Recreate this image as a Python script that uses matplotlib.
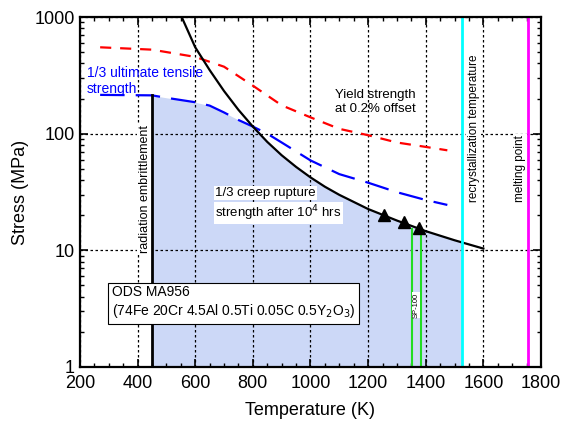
import matplotlib.pyplot as plt
import numpy as np

plt.rcParams['font.family'] = ['Liberation Sans', 'DejaVu Sans']

# 1/3 creep rupture strength after 10^4 hrs
creep_T = np.array([553, 600, 650, 700, 750, 800, 850, 900, 950, 1000, 1050, 1100, 1200, 1300, 1400, 1500, 1600])
creep_S = np.array([1000, 550, 351, 232, 160, 115, 85, 65.3, 51.9, 42.2, 35.1, 29.9, 22.6, 18.0, 14.6, 12.2, 10.35])

# 1/3 ultimate tensile strength
uts_T = np.array([270, 450, 500, 600, 650, 700, 750, 800, 850, 900, 1000, 1100, 1200, 1300, 1400, 1475])
uts_S = np.array([215, 213, 203, 186, 174, 152, 131, 115, 100, 84, 59, 45, 38, 31.5, 27, 24.5])

# yield strength at 0.2% offset
ys_T = np.array([270, 450, 600, 700, 800, 900, 1000, 1100, 1200, 1300, 1400, 1475])
ys_S = np.array([550, 525, 455, 375, 258, 175, 138, 110, 97, 84, 77, 72])

# measured points
pts_T = np.array([1256, 1325, 1375])
pts_S = np.array([20, 17.6, 15.4])

embrittle_T = 450
recryst_T = 1527
melt_T = 1755
sp100_T = [1352, 1383]
sp100_top = 15.2

fig = plt.figure(figsize=(5.62, 4.21), dpi=100)
ax = fig.add_axes([0.1423, 0.1283, 0.8203, 0.8313])
ax.set_yscale('log')
ax.set_xlim(200, 1800)
ax.set_ylim(1, 1000)

# allowable region
T = np.linspace(embrittle_T, recryst_T, 400)
lim_uts = 10 ** np.interp(T, uts_T, np.log10(uts_S))
lim_creep = 10 ** np.interp(T, creep_T, np.log10(creep_S), left=1e4)
top = np.minimum(lim_uts, lim_creep)
ax.fill_between(T, 1, top, color='#ccd8f7', lw=0, zorder=1)

ax.grid(True, which='major', color='black', ls=(0, (2, 2)), lw=0.9, zorder=2)

ax.plot(ys_T, ys_S, color='red', lw=1.6, dashes=(5, 4), zorder=3)
ax.plot(uts_T, uts_S, color='blue', lw=1.6, dashes=(11, 5), zorder=3)
ax.plot(creep_T, creep_S, color='black', lw=1.6, zorder=4)
ax.plot([embrittle_T, embrittle_T], [1, uts_S[1]], color='black', lw=2, zorder=4)
ax.axvline(recryst_T, color='cyan', lw=2, zorder=4)
ax.axvline(melt_T, color='magenta', lw=2, zorder=4)
for t in sp100_T:
    ax.plot([t, t], [1, sp100_top], color='#22dd22', lw=1.5, zorder=4)
ax.plot(pts_T, pts_S, ls='none', marker='^', color='black', ms=8, zorder=5)

white = dict(boxstyle='square,pad=0.1', fc='white', ec='none')
ax.text(424, 33.5, 'radiation embrittlement', rotation=90, ha='center', va='center', fontsize=9,
        bbox=white, zorder=3)
ax.text(1566, 111, 'recrystallization temperature', rotation=90, ha='center', va='center', fontsize=8.5,
        bbox=white, zorder=3)
ax.text(1728, 50, 'melting point', rotation=90, ha='center', va='center', fontsize=8.5,
        bbox=white, zorder=3)
ax.text(1367, 3.4, 'SP-100', rotation=90, ha='center', va='center', fontsize=5.5,
        bbox=white, zorder=6)
ax.text(224, 285, '1/3 ultimate tensile\nstrength', color='blue', ha='left', va='center', fontsize=10)
ax.text(1085, 186, 'Yield strength\nat 0.2% offset', ha='left', va='center', fontsize=9.5)
ax.text(669, 31, '1/3 creep rupture', ha='left', va='center', fontsize=9.5, bbox=white, zorder=6)
ax.text(669, 20.9, 'strength after 10$^4$ hrs', ha='left', va='center', fontsize=9.5, bbox=white, zorder=6)
ax.text(310, 3.57, 'ODS MA956\n(74Fe 20Cr 4.5Al 0.5Ti 0.05C 0.5Y$_2$O$_3$)', ha='left', va='center',
        fontsize=10, bbox=dict(boxstyle='square,pad=0.3', fc='white', ec='black', lw=0.8), zorder=6)

ax.set_xticks(np.arange(200, 1801, 200))
ax.set_xticks(np.arange(200, 1801, 50), minor=True)
ax.set_yticks([1, 10, 100, 1000])
ax.set_yticklabels(['1', '10', '100', '1000'])
ax.tick_params(which='both', direction='in', top=True, right=True, labelsize=13)
ax.tick_params(axis='x', which='major', pad=6)
ax.tick_params(which='major', length=6, width=1.2)
ax.tick_params(which='minor', length=3, width=1)
for s in ax.spines.values():
    s.set_linewidth(1.6)
    s.set_zorder(7)

ax.set_xlabel('Temperature (K)', fontsize=13, labelpad=7)
ax.set_ylabel('Stress (MPa)', fontsize=13)

fig.savefig('out.png', dpi=100)
